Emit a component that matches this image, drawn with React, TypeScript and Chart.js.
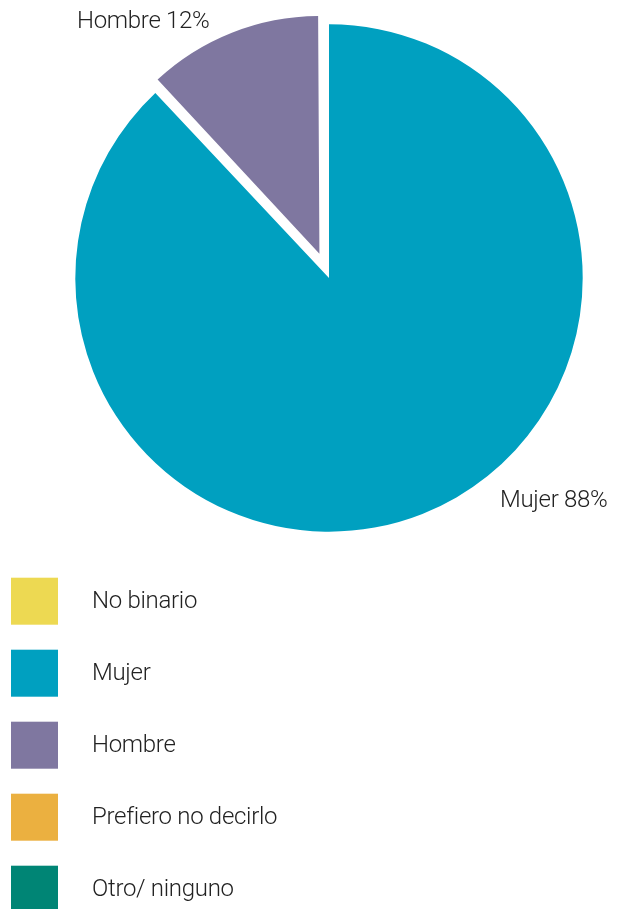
import React, { useEffect, useRef } from "react";
import { Chart, registerables } from "chart.js";

Chart.register(...registerables);

const categories = ["No binario", "Mujer", "Hombre", "Prefiero no decirlo", "Otro/ ninguno"];
const values = [0, 88, 12, 0, 0];
const colors = ["#EDD952", "#00A0C0", "#7F77A0", "#EBB040", "#008575"];
const explode = [0, 0, 104, 0, 0];

const FONT = "Roboto";
const TEXT_COLOR = "#222222";

export default function App() {
  const ref = useRef<HTMLCanvasElement>(null);

  useEffect(() => {
    if (!ref.current) return;

    // exploded slices are drawn slightly smaller than the main pie
    const explodedScale = 0.905;

    const shrinkExploded = {
      id: "shrinkExploded",
      afterDatasetUpdate(chart: any, args: any) {
        const meta = args.meta;
        meta.data.forEach((arc: any, i: number) => {
          if (explode[i] > 0) arc.outerRadius = arc.outerRadius * explodedScale;
        });
      },
    };

    // Label anchors relative to the pie centre (left/baseline of text)
    const labelAnchors: Record<number, { dx: number; dy: number }> = {
      1: { dx: 171, dy: 229 },
      2: { dx: -252, dy: -250 },
    };

    const sliceLabels = {
      id: "sliceLabels",
      afterDatasetsDraw(chart: any) {
        const ctx = chart.ctx;
        const meta = chart.getDatasetMeta(0);
        const arc0 = meta.data[1];
        const cx = arc0.x;
        const cy = arc0.y;
        ctx.save();
        ctx.font = `300 24px ${FONT}`;
        (ctx as any).letterSpacing = "-0.3px";
        ctx.fillStyle = TEXT_COLOR;
        ctx.textAlign = "left";
        ctx.textBaseline = "alphabetic";
        values.forEach((v, i) => {
          if (!v || !labelAnchors[i]) return;
          const a = labelAnchors[i];
          ctx.fillText(`${categories[i]} ${v}%`, cx + a.dx, cy + a.dy);
        });
        ctx.restore();
      },
    };

    const boxLegend = {
      id: "boxLegend",
      afterDraw(chart: any) {
        const ctx = chart.ctx;
        const top = chart.chartArea.bottom + 46;
        const step = 72;
        const size = 47;
        ctx.save();
        ctx.font = `300 24px ${FONT}`;
        (ctx as any).letterSpacing = "-0.3px";
        ctx.textAlign = "left";
        ctx.textBaseline = "middle";
        categories.forEach((c, i) => {
          const y = top + i * step;
          ctx.fillStyle = colors[i];
          ctx.fillRect(11, y, size, size);
          ctx.fillStyle = TEXT_COLOR;
          ctx.fillText(c, 92, y + size / 2 + 1);
        });
        ctx.restore();
      },
    };

    const chart = new Chart(ref.current, {
      type: "pie",
      data: {
        labels: categories,
        datasets: [
          {
            data: values,
            backgroundColor: colors,
            borderWidth: 0,
            offset: explode,
            radius: 253.7,
          } as any,
        ],
      },
      options: {
        responsive: false,
        animation: false,
        events: [],
        layout: { padding: { left: 75.3, right: 41.3, top: 24.3, bottom: 377.3 } },
        plugins: {
          legend: { display: false },
          tooltip: { enabled: false },
        },
      },
      plugins: [shrinkExploded, sliceLabels, boxLegend],
    });

    return () => chart.destroy();
  }, []);

  return (
    <div style={{ position: "absolute", left: 0, top: 0, width: 624, height: 909, background: "#fff" }}>
      <canvas ref={ref} width={624} height={909} style={{ width: 624, height: 909, display: "block" }} />
    </div>
  );
}
